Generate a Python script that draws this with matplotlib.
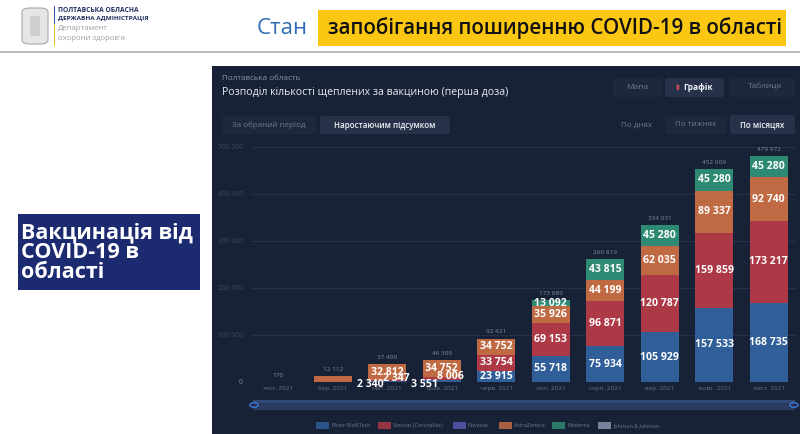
import numpy as np
import matplotlib.pyplot as plt
from matplotlib.patches import Rectangle, FancyBboxPatch, Circle

# Data: cumulative first doses by vaccine, Poltava region
months = ['лют. 2021', 'бер. 2021', 'квіт. 2021', 'трав. 2021', 'черв. 2021',
          'лип. 2021', 'серп. 2021', 'вер. 2021', 'жовт. 2021', 'лист. 2021']
pfizer = [0, 0, 2340, 3551, 23915, 55718, 75934, 105929, 157533, 168735]
sinovac = [0, 0, 2347, 8006, 33754, 69153, 96871, 120787, 159859, 173217]
novavax = [0, 0, 0, 0, 0, 0, 0, 0, 0, 0]
astrazeneca = [170, 12112, 32812, 34752, 34752, 35926, 44199, 62035, 89337, 92740]
moderna = [0, 0, 0, 0, 0, 13092, 43815, 45280, 45280, 45280]
jnj = [0, 0, 0, 0, 0, 0, 0, 0, 0, 0]

vaccines = ['Pfizer-BioNTech', 'Sinovac (CoronaVac)', 'Novavax', 'AstraZeneca',
            'Moderna', 'Johnson & Johnson']
series = [pfizer, sinovac, novavax, astrazeneca, moderna, jnj]
colors = ['#2f5e98', '#ad3846', '#5558b0', '#c06a43', '#2e8a73', '#8a94b0']

yticks = [0, 100000, 200000, 300000, 400000, 500000]

W, H = 800, 434
BG = '#182237'


def fx(x):
    return x / W


def fy(y):
    return 1 - y / H


def fmt(v):
    return f'{v:,}'.replace(',', ' ')


fig = plt.figure(figsize=(8, 4.34), dpi=100, facecolor='white')
plt.rcParams['font.family'] = ['Open Sans', 'DejaVu Sans']


def rect(x0, y0, x1, y1, color, z=-5, **kw):
    fig.patches.append(Rectangle((fx(x0), fy(y1)), fx(x1 - x0), (y1 - y0) / H,
                                 transform=fig.transFigure, facecolor=color,
                                 edgecolor='none', zorder=z, **kw))


def rbox(x0, y0, x1, y1, color):
    fig.patches.append(FancyBboxPatch((fx(x0), fy(y1)), fx(x1 - x0), (y1 - y0) / H,
                                      boxstyle='round,pad=0,rounding_size=0.004',
                                      transform=fig.transFigure, facecolor=color,
                                      edgecolor='none', zorder=-4))


def txt(x, y, s, **kw):
    fig.text(fx(x), fy(y), s, **kw)


# ---- slide header
rect(0, 51, 800, 53, '#bdbdbd')
# logo stand-in
fig.patches.append(FancyBboxPatch((fx(22), fy(44)), fx(26), 36 / H,
                                  boxstyle='round,pad=0,rounding_size=0.01',
                                  transform=fig.transFigure, facecolor='#e6e6e6',
                                  edgecolor='#a8a8a8', linewidth=0.8, zorder=-4))
rect(30, 16, 40, 36, '#cfcfcf', z=-3)
rect(53.5, 6, 55, 24, '#2e5aa8')
rect(53.5, 24, 55, 46, '#f2c230')
txt(58, 10, 'ПОЛТАВСЬКА ОБЛАСНА', fontsize=4.8, fontweight='bold', color='#1d2f5e', va='center')
txt(58, 18, 'ДЕРЖАВНА АДМІНІСТРАЦІЯ', fontsize=4.6, fontweight='bold', color='#1d2f5e', va='center')
txt(58, 28, 'Департамент', fontsize=5.6, color='#a0a0a0', va='center')
txt(58, 38, "охорони здоров'я", fontsize=5.6, color='#a0a0a0', va='center')

txt(257, 28, 'Стан', fontsize=16, color='#2e6db4', va='center')
rect(318, 10, 786, 46, '#fbc712')
txt(555, 28, 'запобігання поширенню COVID-19 в області', fontsize=14.8,
    fontweight='semibold', color='#111111', ha='center', va='center')

# ---- left title box
rect(18, 214, 200, 290, '#1c2a70')
for i, line in enumerate(['Вакцинація від', 'COVID-19 в', 'області']):
    txt(21, 233 + i * 20, line, fontsize=15.5, fontweight='bold', color='white', va='center')

# ---- dashboard panel
rect(212, 66, 800, 434, BG, z=-6)
txt(222, 79, 'Полтавська область', fontsize=5.8, color='#8b93a7', va='center')
txt(222, 93, 'Розподіл кількості щеплених за вакциною (перша доза)', fontsize=7.6,
    color='#e8ebf0', va='center')

rbox(613, 78, 662, 97, '#1d283d')
txt(637, 87.5, 'Мапа', fontsize=6, color='#6e7890', ha='center', va='center')
rbox(665, 78, 724, 97, '#27324a')
txt(698, 87.5, 'Графік', fontsize=6, fontweight='bold', color='#f0f2f6', ha='center', va='center')
txt(677, 87.5, '▮', fontsize=5, color='#c94a5a', ha='center', va='center')
rbox(730, 78, 795, 97, '#1d283d')
txt(765, 87.5, 'Таблиця', fontsize=6, color='#6e7890', ha='center', va='center')

rbox(222, 116, 316, 134, '#1d283d')
txt(269, 125, 'За обраний період', fontsize=5.8, color='#6e7890', ha='center', va='center')
rbox(320, 116, 450, 134, '#27324a')
txt(385, 125, 'Наростаючим підсумком', fontsize=5.8, fontweight='semibold',
    color='#f0f2f6', ha='center', va='center')
txt(637, 125, 'По днях', fontsize=5.8, color='#6e7890', ha='center', va='center')
rbox(665, 116, 727, 134, '#1d283d')
txt(696, 125, 'По тижнях', fontsize=5.8, color='#6e7890', ha='center', va='center')
rbox(730, 115, 795, 134, '#27324a')
txt(762, 125, 'По місяцях', fontsize=5.8, fontweight='semibold', color='#f0f2f6',
    ha='center', va='center')

# ---- chart
ax = fig.add_axes([fx(251), fy(382), fx(796 - 251), (382 - 146.7) / H])
ax.set_facecolor('none')
x = np.arange(len(months))
bw = 0.69
bottom = np.zeros(len(months))
for name, vals, col in zip(vaccines, series, colors):
    vals = np.array(vals, dtype=float)
    ax.bar(x, vals, bw, bottom=bottom, color=col, edgecolor='none', zorder=2)
    for i, v in enumerate(vals):
        if v <= 0:
            continue
        total = sum(s[i] for s in series)
        if total < 20000:
            continue
        dx, dy = 0, 0
        if v < 10000:
            # tiny segments: label pushed aside as in the dashboard
            if name == 'Pfizer-BioNTech':
                dx, dy = -17, -3
            else:
                dx, dy = 9, 2
        ax.annotate(fmt(int(v)), (x[i], bottom[i] + v / 2),
                    xytext=(dx * 0.72, dy * 0.72), textcoords='offset points',
                    ha='center', va='center', fontsize=7.6, fontweight='bold',
                    color='white', zorder=5, annotation_clip=False)
    bottom += vals

for i, t in enumerate(bottom):
    ax.annotate(fmt(int(t)), (x[i], t), xytext=(0, 3), textcoords='offset points',
                ha='center', va='bottom', fontsize=4.6, color='#7f8aa2',
                annotation_clip=False)

ax.set_xlim(-0.5, len(months) - 0.5)
ax.set_ylim(0, 500000)
ax.set_yticks(yticks)
ax.set_yticklabels([fmt(v) for v in yticks], fontsize=4.8, color='#3d4862')
ax.get_yticklabels()[0].set_color('#7f8aa2')
ax.set_xticks(x)
ax.set_xticklabels(months, fontsize=4.6, color='#66718a')
ax.tick_params(length=0, pad=3)
ax.tick_params(axis='y', pad=6)
ax.grid(axis='y', color='#2a3550', linewidth=0.6, zorder=0)
for s in ax.spines.values():
    s.set_visible(False)

# ---- range slider
rect(253, 400, 795, 410, '#2a3b63')
rect(253, 400, 795, 403, '#33497a')
for cx in (254, 794):
    fig.patches.append(Circle((fx(cx), fy(405)), 4.2 / W, transform=fig.transFigure,
                              facecolor='#22305a', edgecolor='#3f7fd6', linewidth=0.9))

# ---- legend
lx = [316, 378, 453, 499, 552, 598]
for name, col, x0 in zip(vaccines, colors, lx):
    rect(x0, 422, x0 + 13, 429, col, alpha=0.85)
    txt(x0 + 15, 425.5, name, fontsize=3.8, color='#6f7a92', va='center')

fig.savefig('out.png', dpi=100, facecolor='white')
